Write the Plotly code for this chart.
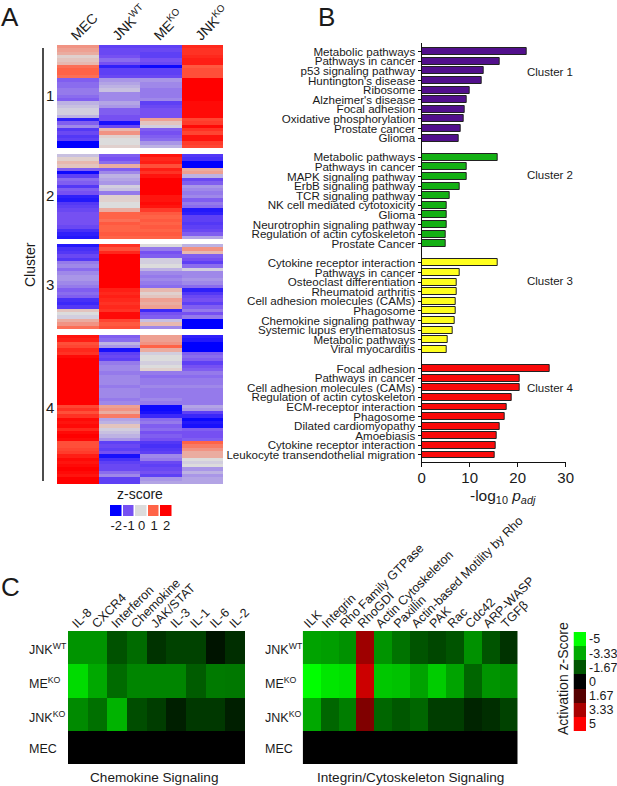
import plotly.graph_objects as go

W, H = 617, 786
FONT = "Liberation Sans"
INK = "#1a1a1a"

# Panel A: heatmap rows per cluster, one list per sample
samples = ["MEC", "JNK<sup>WT</sup>", "ME<sup>KO</sup>", "JNK<sup>KO</sup>"]

c1_mec = [0.6, 0.5, 0.4, 0.1, 0.2, 0.3, 0.9, 1.0, 1.0, 0.9, -0.9, -0.8, -0.8, -0.7, -0.7, -0.8, -0.9,
          -0.3, -0.2, -0.1, -0.1, -0.3, -1.6, -0.9, -0.6, -1.3, -1.1, -1.3, -1.2, -2, -2]
c1_jnkwt = [-1.2, -1.1, -1.1, -1.0, -0.8, -1.0, -1.6, -1.2, -1.2, -1.1, -0.5, -0.4, -0.3, -0.2, -0.6, -0.6, -0.6,
            -0.4, -0.5, -0.9, -0.9, -1.0, -1.0, -1.8, -1.1, 0.3, 0.6, 0.1, 0, 0, 0.1]
c1_meko = [-1.2, -1.1, -1.2, -1.2, -1.0, -1.1, -1.9, -1.2, -1.2, -1.1, -0.5, -0.6, -0.6, -0.7, -0.7, -0.7, -0.6,
           -1.2, -1.1, -1.0, -1.0, -1.0, 0.5, 0.2, -0.1, -0.9, -1.0, -0.9, -0.8, -0.5, -0.3]
c1_jnkko = [1.6, 1.5, 1.5, 1.6, 1.7, 1.7, 1.1, 1.2, 1.2, 1.2, 2, 2, 2, 2, 2, 2, 2,
            1.9, 1.9, 1.9, 1.9, 1.9, 1.3, 1.4, 1.9, 1.5, 1.3, 1.8, 1.8, 1.4, 1.3]

c2_mec = [-0.2, 0.1, 0.3, 0.2, -0.9, -1.9, -1.2, -0.8, -0.9, -1.3, -0.9, -1.0, -1.6, -1.7, -1.3, -1.2, -1.1,
          -1.0, -1.0, -1.0, -1.0, -1.1, -1.4, -1.6, -1.7]
c2_jnkwt = [-0.9, -1.0, -0.8, 0.4, -0.9, -0.6, -0.3, -0.4, -0.5, -0.1, -0.2, -0.7, 0.1, 0.1, 0, 0, 0.4,
            1.0, 1.0, 0.9, 1.1, 1.0, 1.0, 1.1, 1.0]
c2_meko = [1.8, 1.6, 1.7, 1.2, 1.7, 1.5, 1.8, 2, 2, 2, 2, 2, 1.8, 1.8, 1.9, 1.8, 1.4,
           1.1, 1.0, 1.1, 1.0, 1.1, 1.0, 1.1, 1.0]
c2_jnkko = [-1.3, -1.4, -2, -2, 0.4, 0.5, -0.3, -1.1, -0.9, -0.5, -0.6, -0.7, -0.6, -0.9, -0.7, -0.8, -1.7,
            -1.6, -1.2, -1.2, -1.3, -1.2, -1.1, -0.9, -0.4]

c3_mec = [-1.7, -1.4, -1.3, -1.1, -1.3, -0.7, -0.6, -0.8, -0.6, -0.5, -0.5, -0.6, -0.7, -0.9, -0.8, -0.9, -1.4,
          -1.5, -1.3, 0.2, 0.0, -0.1, 0.4, 0.6, 0.9]
c3_jnkwt = [1.5, 1.2, 1.6, 2, 2, 2, 2, 2, 2, 2, 2, 2, 2, 1.7, 1.6, 1.7, 1.6,
            1.5, 1.6, 1.5, 1.9, 1.9, 1.3, 1.1, 1.2]
c3_meko = [0.0, -0.7, -1.0, -0.9, -0.1, -0.1, 0.0, -0.3, -0.6, -0.7, -0.6, -0.7, -0.8, 0.3, 0.1, 0.2, 0.5,
           0.4, 0.5, -1.5, -1.0, -0.9, -0.2, 0.3, -0.6]
c3_jnkko = [-0.3, 0.6, 0.3, -0.9, -1.0, -1.2, -0.8, -0.1, -0.6, -0.6, -0.5, -0.6, -0.8, -1.6, -1.3, -1.1, -1.0,
            -1.2, -0.9, -0.7, -1.0, -0.7, -2, -2, -2]

c4_mec = [1.8, 1.7, 1.2, 1.3, 1.6, 1.5, 1.9, 2, 2, 2, 2, 2, 2, 2, 2, 2, 2, 2, 2, 2, 2,
          1.3, 1.5, 1.2, 1.5, 1.9, 1.8, 1.9, 1.6, 1.9, 2, 1.9, 1.2, 1.2, 1.3, 1.4,
          1.7, 1.9, 1.8, 1.9, 2, 1.9, 1.8, 2, 2]
c4_jnkwt = [-0.9, -0.8, -0.3, -0.5, -1.8, -1.2, -1.1, -1.2, -0.7, -0.6, -0.6, -0.7, -0.6, -0.6, -0.6, -0.7, -0.6,
            -0.6, -0.6, -0.7, -0.6, 0.5, 0.6, 0.4, 0.8, -0.4, -0.3, 0.2, -0.1, -0.2, -0.3, -0.5,
            -1.2, -1.1, -1.2, -1.0, -1.8, -1.4, -1.2, -1.1, -1.1, -0.8, -0.6, -1.2, -1.2]
c4_meko = [0.5, 0.5, 0.6, 1.0, 0.4, -0.1, 0, 0, -0.1, 0, 0.1, -0.7, -0.8, -0.7, -0.7, -0.6, -0.7, -0.7, -0.7, -0.6, -0.7,
           -1.9, -1.9, -1.8, -1.5, -0.8, -0.7, -0.9, -0.8, -1.0, -0.9, -1.0, -1.3, -1.4, -1.3, -1.2,
           -0.6, -0.7, -1.1, -1.2, -1.1, -1.0, -1.2, -0.5, -0.4]
c4_jnkko = [-1.6, -1.7, -2, -2, -2, -0.9, -0.8, -0.9, -1.2, -1.0, -0.9, -0.7, -0.8, -0.7, -0.7, -0.6, -0.7, -0.7, -0.7, -0.7, -0.7,
            -0.4, -0.5, -1.2, -1.5, -1.9, -1.7, -1.8, -0.9, -1.0, -1.0, -0.9, 1.0, 0.8, 0.6, 0.4, 0.4,
            0.0, -0.1, 0.0, -0.5, -0.3, -0.5, -0.4, -0.4]

zscore_ticks = ["-2", "-1", "0", "1", "2"]
zscore_vals = [-2, -1, 0, 1, 2]

# Panel B: enrichment terms and -log10 padj
terms_1 = ["Metabolic pathways", "Pathways in cancer", "p53 signaling pathway", "Huntington's disease", "Ribosome",
           "Alzheimer's disease", "Focal adhesion", "Oxidative phosphorylation", "Prostate cancer", "Glioma"]
vals_1 = [21.9, 16.2, 12.9, 12.5, 10.1, 9.4, 9.0, 8.75, 8.2, 7.7]
terms_2 = ["Metabolic pathways", "Pathways in cancer", "MAPK signaling pathway", "ErbB signaling pathway",
           "TCR signaling pathway", "NK cell mediated cytotoxicity", "Glioma", "Neurotrophin signaling pathway",
           "Regulation of actin cytoskeleton", "Prostate Cancer"]
vals_2 = [15.8, 9.3, 9.3, 8.0, 5.8, 5.2, 5.15, 5.15, 5.1, 5.1]
terms_3 = ["Cytokine receptor interaction", "Pathways in cancer", "Osteoclast differentiation", "Rheumatoid arthritis",
           "Cell adhesion molecules (CAMs)", "Phagosome", "Chemokine signaling pathway",
           "Systemic lupus erythematosus", "Metabolic pathways", "Viral myocarditis"]
vals_3 = [15.8, 7.85, 7.3, 7.3, 7.1, 7.0, 6.9, 6.4, 5.4, 5.2]
terms_4 = ["Focal adhesion", "Pathways in cancer", "Cell adhesion molecules (CAMs)", "Regulation of actin cytoskeleton",
           "ECM-receptor interaction", "Phagosome", "Dilated cardiomyopathy", "Amoebiasis",
           "Cytokine receptor interaction", "Leukocyte transendothelial migration"]
vals_4 = [26.7, 20.4, 20.4, 18.8, 17.7, 17.3, 16.3, 15.6, 15.5, 15.3]
bar_colors = ["#52108c", "#14b014", "#ffff1e", "#fa0a0a"]

# Panel C: activation z-scores
chemokine = ["IL-8", "CXCR4", "Interferon", "Chemokine", "JAK/STAT", "IL-3", "IL-1", "IL-6", "IL-2"]
chem_jnkwt = [-2.9, -2.9, -1.6, -2.1, -1.0, -1.3, -1.3, -0.4, -0.9]
chem_meko = [-4.3, -3.3, -2.1, -2.6, -2.6, -2.6, -1.8, -2.4, -2.35]
chem_jnkko = [-2.7, -2.2, -3.5, -1.5, -1.2, -0.6, -1.1, -1.1, -0.6]
chem_mec = [0, 0, 0, 0, 0, 0, 0, 0, 0]

integrin = ["ILK", "Integrin", "Rho Family GTPase", "RhoGDI", "Actin Cytoskeleton", "Paxillin",
            "Actin-based Motility by Rho", "PAK", "Rac", "Cdc42", "ARP-WASP", "TGFβ"]
int_jnkwt = [-3.2, -3.1, -2.85, 3.1, -2.9, -2.25, -1.65, -1.4, -1.65, -2.85, -1.65, -1.0]
int_meko = [-5, -4.5, -4.4, 4.0, -3.9, -3.8, -3.2, -4.0, -3.2, -2.0, -2.9, -2.75]
int_jnkko = [-3.3, -2.0, -2.45, 2.5, -2.0, -1.7, -2.0, -1.2, -1.2, -0.7, -0.9, -1.3]
int_mec = [0, 0, 0, 0, 0, 0, 0, 0, 0, 0, 0, 0]

activation_ticks = ["-5", "-3.33", "-1.67", "0", "1.67", "3.33", "5"]
activation_vals = [-5, -3.33, -1.67, 0, 1.67, 3.33, 5]

row_labels = ["JNK<sup>WT</sup>", "ME<sup>KO</sup>", "JNK<sup>KO</sup>", "MEC"]

bwr = [[0, "#0000ff"], [0.25, "#7650f2"], [0.5, "#dcdcdc"], [0.75, "#ff6347"], [1, "#ff0000"]]
gkr = [[0, "#00ff00"], [0.5, "#000000"], [1, "#ff0000"]]


def xdom(left, right):
    return [left / W, right / W]


def ydom(top, bottom):
    return [1 - bottom / H, 1 - top / H]


def txt(x, y, text, size=12, angle=0, anchor="center"):
    return dict(x=x / W, y=1 - y / H, xref="paper", yref="paper", text=text, showarrow=False, textangle=angle,
                xanchor=anchor, yanchor="middle", font=dict(family=FONT, size=size, color=INK))


fig = go.Figure()
hidden = dict(showticklabels=False, ticks="", showgrid=False, zeroline=False, showline=False)
axes = {}

# Panel A
clusters = [
    (c1_mec, c1_jnkwt, c1_meko, c1_jnkko, 45, 148),
    (c2_mec, c2_jnkwt, c2_meko, c2_jnkko, 154, 239),
    (c3_mec, c3_jnkwt, c3_meko, c3_jnkko, 244, 329),
    (c4_mec, c4_jnkwt, c4_meko, c4_jnkko, 335, 484),
]
for i, (a, b, c, d, top, bottom) in enumerate(clusters):
    n = i + 1
    fig.add_trace(go.Heatmap(z=[list(r) for r in zip(a, b, c, d)], x=samples, colorscale=bwr, zmin=-2, zmax=2,
                             showscale=False, xaxis=f"x{n}", yaxis=f"y{n}"))
    axes[f"xaxis{n}"] = dict(domain=xdom(57, 223), anchor=f"y{n}", **hidden)
    axes[f"yaxis{n}"] = dict(domain=ydom(top, bottom), anchor=f"x{n}", autorange="reversed", **hidden)
axes["xaxis1"].update(showticklabels=True, side="top", tickangle=-45, ticks="", ticklabelshift=-6, ticklabelstandoff=-2,
                      tickfont=dict(family=FONT, size=14, color=INK))

# z-score key
fig.add_trace(go.Heatmap(z=[zscore_vals], x=zscore_ticks, colorscale=bwr, zmin=-2, zmax=2, showscale=False,
                         xgap=1.5, xaxis="x5", yaxis="y5"))
axes["xaxis5"] = dict(domain=xdom(110, 173), anchor="y5", type="category", tickvals=zscore_ticks, tickangle=0,
                      showgrid=False, zeroline=False, showline=False, ticks="",
                      tickfont=dict(family=FONT, size=13, color=INK))
axes["yaxis5"] = dict(domain=ydom(505, 516), anchor="x5", **hidden)

# Panel B
slot = 0
tick_pos, tick_text = [], []
for terms, vals, color in zip([terms_1, terms_2, terms_3, terms_4], [vals_1, vals_2, vals_3, vals_4], bar_colors):
    pos = list(range(slot, slot + len(terms)))
    fig.add_trace(go.Bar(x=vals, y=pos, orientation="h", width=0.72, xaxis="x6", yaxis="y6", showlegend=False,
                         marker=dict(color=color, line=dict(color="#222222", width=1))))
    tick_pos += pos
    tick_text += terms
    slot += len(terms) + 1
axes["xaxis6"] = dict(domain=xdom(421.7, 565.7), anchor="y6", range=[0, 30], tickvals=[0, 10, 20, 30], ticks="outside",
                      ticklen=4, tickwidth=1.2, tickcolor="#111111", showline=True, linecolor="#111111", linewidth=1.3,
                      ticklabelstandoff=-2, showgrid=False, zeroline=False,
                      tickfont=dict(family=FONT, size=15, color=INK))
axes["yaxis6"] = dict(domain=ydom(43, 461.7), anchor="x6", range=[42.7, -0.9], tickvals=tick_pos, ticktext=tick_text,
                      ticks="outside", ticklen=3, tickwidth=1, tickcolor="#111111", showline=True, linecolor="#111111",
                      linewidth=1.3, showgrid=False, zeroline=False, tickfont=dict(family=FONT, size=11.6, color=INK))

# Panel C
panel_c = [
    (chemokine, [chem_jnkwt, chem_meko, chem_jnkko, chem_mec], 68, 245, -5),
    (integrin, [int_jnkwt, int_meko, int_jnkko, int_mec], 302.7, 517.7, -7),
]
for i, (labels, rows, left, right, shift) in enumerate(panel_c):
    n = i + 7
    fig.add_trace(go.Heatmap(z=rows, x=labels, y=row_labels, colorscale=gkr, zmin=-5, zmax=5, showscale=False,
                             xaxis=f"x{n}", yaxis=f"y{n}"))
    axes[f"xaxis{n}"] = dict(domain=xdom(left, right), anchor=f"y{n}", side="top", tickangle=-45, ticks="", type="category",
                             tickvals=labels, ticklabelshift=shift, ticklabelstandoff=-3, showgrid=False, zeroline=False,
                             tickfont=dict(family=FONT, size=12.5, color=INK))
    axes[f"yaxis{n}"] = dict(domain=ydom(631, 764), anchor=f"x{n}", autorange="reversed", **hidden)

# activation key
fig.add_trace(go.Heatmap(z=[[v] for v in activation_vals], y=activation_ticks, colorscale=gkr, zmin=-5, zmax=5,
                         showscale=False, xaxis="x9", yaxis="y9"))
axes["xaxis9"] = dict(domain=xdom(573.5, 586), anchor="y9", **hidden)
axes["yaxis9"] = dict(domain=ydom(632, 731), anchor="x9", side="right", autorange="reversed", type="category", ticks="",
                      tickvals=activation_ticks, ticklabelstandoff=2, showgrid=False, zeroline=False,
                      tickfont=dict(family=FONT, size=12.5, color=INK))

notes = [
    txt(10, 17, "A", 26), txt(326, 17, "B", 26), txt(10, 587, "C", 26),
    txt(50, 96, "1", 15), txt(50, 195, "2", 15), txt(50, 284, "3", 15), txt(50, 407, "4", 15),
    txt(30, 265, "Cluster", 14, angle=-90),
    txt(140, 494, "z-score", 14),
    txt(550, 72, "Cluster 1", 11.5), txt(550, 175, "Cluster 2", 11.5), txt(550, 281, "Cluster 3", 11.5),
    txt(550, 388, "Cluster 4", 11.5),
    txt(503, 497, "-log<sub>10</sub> <i>p<sub>adj</sub></i>", 15.5),
    txt(154, 777, "Chemokine Signaling", 13.6), txt(410, 777, "Integrin/Cytoskeleton Signaling", 13.6),
    txt(563, 679, "Activation z-Score", 14, angle=-90),
]
for x0 in (27, 263):
    for y0, label in zip((649, 683, 717, 749), row_labels):
        notes.append(txt(x0, y0, label, 12.5, anchor="left"))

fig.update_layout(template="none", width=W, height=H, margin=dict(l=0, r=0, t=0, b=0), paper_bgcolor="white",
                  plot_bgcolor="white", showlegend=False, annotations=notes, bargap=0,
                  shapes=[dict(type="line", xref="paper", yref="paper", x0=43 / W, x1=43 / W, y0=1 - 48 / H, y1=1 - 481 / H,
                               line=dict(color="#111111", width=1.5))],
                  **axes)

fig.write_html("out.html", config=dict(displayModeBar=False), post_script="document.body.style.margin='0';")
